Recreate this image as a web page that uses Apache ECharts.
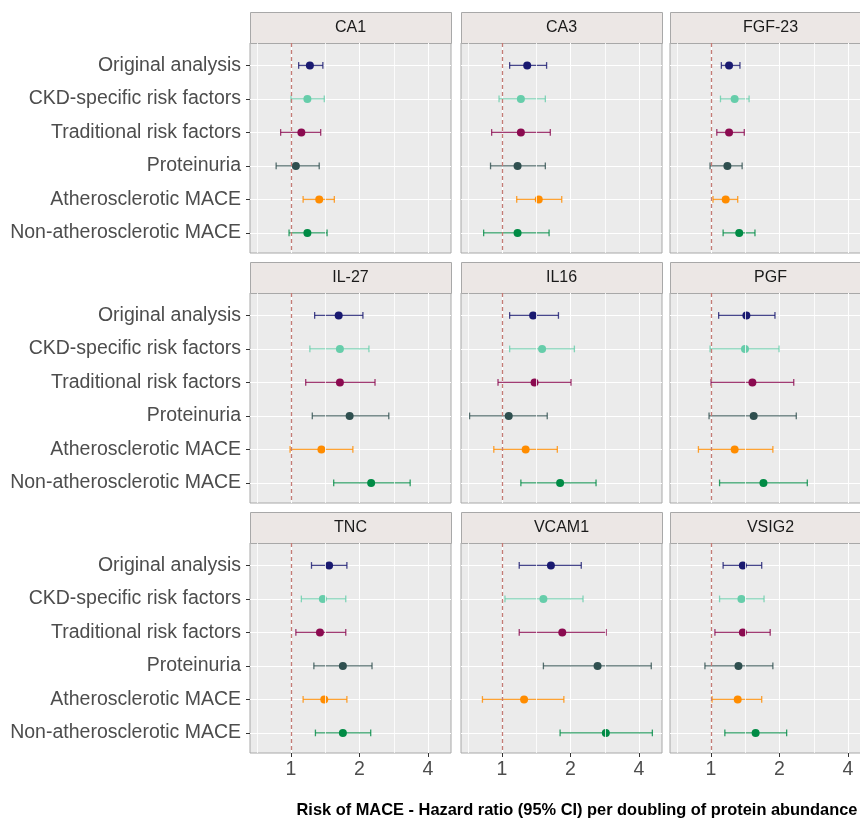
<!DOCTYPE html>
<html>
<head>
<meta charset="UTF-8">
<title>Risk of MACE</title>
<script src="https://cdn.jsdelivr.net/npm/echarts@6/dist/echarts.min.js"></script>
<style>
  html, body { margin: 0; padding: 0; background: #fff; }
  #main { width: 860px; height: 820px; }
</style>
</head>
<body>
<div id="main"></div>
<script>
var proteins = ['CA1', 'CA3', 'FGF-23', 'IL-27', 'IL16', 'PGF', 'TNC', 'VCAM1', 'VSIG2'];
var analyses = ['Original analysis', 'CKD-specific risk factors', 'Traditional risk factors',
                'Proteinuria', 'Atherosclerotic MACE', 'Non-atherosclerotic MACE'];
var colors = ['#191970', '#66CDAA', '#8B0A50', '#2F4F4F', '#FF8C00', '#008B45'];

// one row per protein, values in the order of analyses
var hr = [
  [1.21, 1.18, 1.11, 1.05, 1.33, 1.18],
  [1.29, 1.21, 1.21, 1.17, 1.45, 1.17],
  [1.20, 1.27, 1.20, 1.18, 1.16, 1.33],
  [1.62, 1.64, 1.64, 1.81, 1.36, 2.25],
  [1.37, 1.50, 1.39, 1.07, 1.27, 1.80],
  [1.43, 1.41, 1.52, 1.54, 1.27, 1.70],
  [1.47, 1.38, 1.34, 1.69, 1.40, 1.69],
  [1.64, 1.52, 1.84, 2.63, 1.25, 2.86],
  [1.38, 1.36, 1.38, 1.32, 1.31, 1.57]
];
var lower = [
  [1.08, 1.00, 0.90, 0.86, 1.13, 0.98],
  [1.08, 0.97, 0.90, 0.89, 1.16, 0.83],
  [1.11, 1.10, 1.06, 0.99, 1.02, 1.13],
  [1.27, 1.21, 1.16, 1.24, 0.99, 1.54],
  [1.08, 1.08, 0.96, 0.72, 0.92, 1.21],
  [1.08, 0.99, 1.00, 0.98, 0.88, 1.09],
  [1.23, 1.11, 1.05, 1.26, 1.13, 1.28],
  [1.19, 1.03, 1.19, 1.52, 0.82, 1.80],
  [1.13, 1.09, 1.04, 0.94, 1.01, 1.15]
];
var upper = [
  [1.38, 1.40, 1.35, 1.33, 1.55, 1.44],
  [1.57, 1.55, 1.63, 1.55, 1.83, 1.61],
  [1.34, 1.47, 1.40, 1.37, 1.31, 1.56],
  [2.07, 2.20, 2.34, 2.69, 1.87, 3.34],
  [1.77, 2.08, 2.01, 1.58, 1.75, 2.59],
  [1.91, 1.99, 2.31, 2.37, 1.87, 2.65],
  [1.76, 1.74, 1.74, 2.27, 1.76, 2.24],
  [2.23, 2.27, 2.87, 4.53, 1.87, 4.58],
  [1.67, 1.71, 1.82, 1.87, 1.67, 2.15]
];
var xTicks = [1, 2, 4];
var minorBreaks = [0.7071, 1.4142, 2.8284];
var rowTicks = [1, 2, 3, 4, 5, 6];

var font = '"Liberation Sans", Arial, sans-serif';
var colLeft = [250, 461, 670];
var rowTop = [43, 293, 543];
var panelW = 201, panelH = 210, stripH = 31;

var grids = [], xAxes = [], yAxes = [], series = [], graphics = [];

proteins.forEach(function (name, i) {
  var col = i % 3, row = Math.floor(i / 3);
  grids.push({
    left: colLeft[col], top: rowTop[row], width: panelW, height: panelH,
    show: true, backgroundColor: '#EBEBEB', borderColor: '#A8A8A8', borderWidth: 1,
    containLabel: false, outerBoundsMode: 'none'
  });
  xAxes.push({
    type: 'log', logBase: 2, gridIndex: i, min: 0.66, max: 5.05, position: 'bottom',
    axisLine: { show: false },
    axisTick: { show: row === 2, length: 4, customValues: xTicks, lineStyle: { color: '#333' } },
    axisLabel: { show: row === 2, customValues: xTicks, fontSize: 19.5, color: '#4D4D4D',
                 fontFamily: font, margin: 7 },
    splitLine: { show: true, lineStyle: { color: '#fff', width: 1 } },
    minorTick: { show: false }, minorSplitLine: { show: false }
  });
  yAxes.push({
    type: 'value', gridIndex: i, inverse: true, min: 0.33, max: 6.6,
    axisLine: { show: false },
    axisTick: { show: col === 0, length: 4, customValues: rowTicks, lineStyle: { color: '#333' } },
    axisLabel: { show: col === 0, customValues: rowTicks, fontSize: 19.5, color: '#4D4D4D',
                 fontFamily: font, margin: 9,
                 formatter: function (v) { return analyses[Math.round(v) - 1]; } },
    splitLine: { show: true, lineStyle: { color: '#fff', width: 1 } }
  });

  // minor grid + reference line at HR = 1
  var lines = minorBreaks.map(function (b) {
    return { xAxis: b, lineStyle: { color: '#fff', width: 0.8, type: 'solid' } };
  });
  lines.push({ xAxis: 1, lineStyle: { color: '#C47C76', width: 1.3, type: [4, 3] } });
  series.push({
    type: 'scatter', xAxisIndex: i, yAxisIndex: i, data: [], z: 1, silent: true,
    markLine: { symbol: 'none', silent: true, animation: false, label: { show: false },
                emphasis: { disabled: true }, data: lines }
  });

  series.push({
    type: 'custom', xAxisIndex: i, yAxisIndex: i, z: 2, silent: true,
    encode: { x: [0, 1], y: 2 },
    data: analyses.map(function (a, j) {
      return { value: [lower[i][j], upper[i][j], j + 1], itemStyle: { color: colors[j] } };
    }),
    renderItem: function (params, api) {
      var y = api.value(2);
      var p0 = api.coord([api.value(0), y]);
      var p1 = api.coord([api.value(1), y]);
      var h = Math.abs(api.coord([api.value(0), y + 0.1])[1] - p0[1]);
      var st = { stroke: api.visual('color'), lineWidth: 1.3, opacity: 0.8 };
      return {
        type: 'group',
        children: [
          { type: 'line', shape: { x1: p0[0], y1: p0[1], x2: p1[0], y2: p1[1] }, style: st },
          { type: 'line', shape: { x1: p0[0], y1: p0[1] - h, x2: p0[0], y2: p0[1] + h }, style: st },
          { type: 'line', shape: { x1: p1[0], y1: p1[1] - h, x2: p1[0], y2: p1[1] + h }, style: st }
        ]
      };
    }
  });

  series.push({
    type: 'scatter', xAxisIndex: i, yAxisIndex: i, z: 3, symbolSize: 8, silent: true,
    data: analyses.map(function (a, j) {
      return { value: [hr[i][j], j + 1], itemStyle: { color: colors[j], opacity: 1 } };
    })
  });

  graphics.push({
    type: 'rect', silent: true,
    shape: { x: colLeft[col] + 0.5, y: rowTop[row] - stripH + 0.5, width: panelW, height: stripH },
    style: { fill: '#ECE7E5', stroke: '#A8A8A8', lineWidth: 1 }
  });
  graphics.push({
    type: 'text', silent: true,
    x: colLeft[col] + panelW / 2, y: rowTop[row] - stripH / 2,
    style: { text: name, fill: '#1A1A1A', fontSize: 16, fontFamily: font,
             align: 'center', verticalAlign: 'middle',
             textAlign: 'center', textVerticalAlign: 'middle' }
  });
});

graphics.push({
  type: 'text', silent: true, x: 577, y: 810,
  style: { text: 'Risk of MACE - Hazard ratio (95% CI) per doubling of protein abundance',
           fill: '#000', fontSize: 16.4, fontWeight: 'bold', fontFamily: font,
           align: 'center', verticalAlign: 'middle', textAlign: 'center', textVerticalAlign: 'middle' }
});

var myChart = echarts.init(document.getElementById('main'));
myChart.setOption({
  animation: false,
  backgroundColor: '#fff',
  grid: grids,
  xAxis: xAxes,
  yAxis: yAxes,
  series: series,
  graphic: graphics
});
</script>
</body>
</html>
